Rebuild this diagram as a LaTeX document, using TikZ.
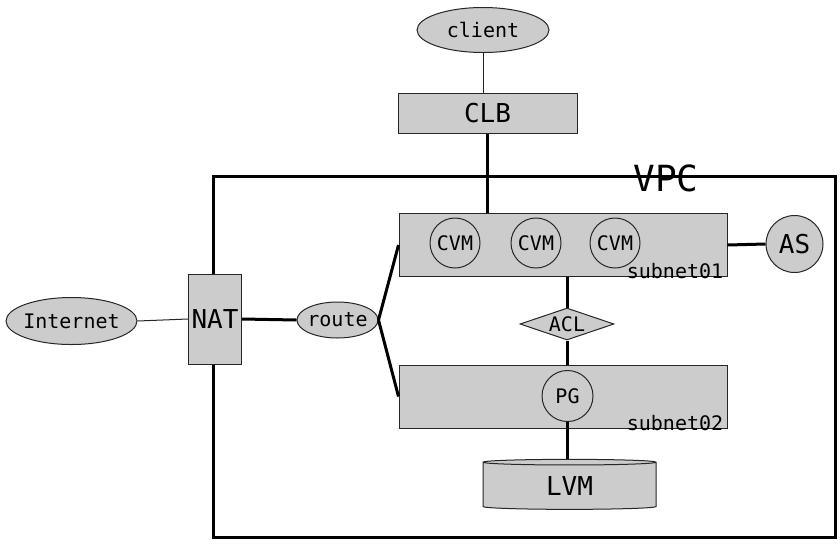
\documentclass[tikz,border=0pt]{standalone}
\usepackage{fontspec}
\setmainfont{DejaVu Sans Mono}
\usetikzlibrary{positioning, shapes.geometric}

\tikzset{
  box/.style={draw=black!85, fill=gray!40, line width=1pt, inner sep=0pt},
  small/.style={font=\fontsize{20}{24}\selectfont},
  big/.style={font=\fontsize{26}{30}\selectfont},
  link/.style={line width=3pt},
  thinlink/.style={line width=1pt, draw=black!85},
}

\begin{document}
\begin{tikzpicture}[x=1pt, y=-1pt]
  \useasboundingbox (0,0) rectangle (840,550);

  % VPC cluster
  \draw[link] (213,176) rectangle (835,537);
  \node[font=\fontsize{36}{40}\selectfont] (vpc) at (666,178) {VPC};

  % outside
  \node[box, ellipse, small, minimum width=132, minimum height=45] (client) at (483,30) {client};
  \node[box, big, minimum width=179, minimum height=40] (clb) at (487.5,113) {CLB};
  \node[box, ellipse, small, inner xsep=-3pt, minimum width=131, minimum height=47] (internet) at (71.5,321) {Internet};
  \node[box, big, minimum width=53, minimum height=90] (nat) at (215,319) {NAT};
  \node[box, ellipse, small, inner xsep=-2pt, minimum width=81, minimum height=36] (route) at (337.5,320) {route};

  % subnets
  \node[box, minimum width=328, minimum height=63] (sub1) at (563,245) {};
  \node[box, minimum width=328, minimum height=63] (sub2) at (563,396.5) {};
  \foreach \x/\n in {455/1, 536/2, 615/3}
    \node[box, circle, small, minimum size=50] (cvm\n) at (\x,243) {CVM};
  \node[small] (lab1) at (675,271) {subnet01};
  \node[small] (lab2) at (675,423) {subnet02};
  \node[box, circle, big, minimum size=57] (as) at (794.5,244) {AS};
  \node[box, diamond, small, aspect=2.9, minimum width=94, minimum height=32] (acl) at (567,324) {ACL};
  \node[box, circle, small, minimum size=51] (pg) at (567.5,396) {PG};
  \node[box, big, cylinder, shape border rotate=90, aspect=0.12,
        minimum width=173, minimum height=50,
        cylinder uses custom fill, cylinder body fill=gray!40,
        cylinder end fill=gray!25] (lvm) at (569.5,486) {LVM};

  % links
  \draw[thinlink] (client.south) -- (client.south |- clb.north);
  \draw[link] (clb.south) -- (clb.south |- sub1.north);
  \draw[thinlink] (internet.east) -- (nat.west);
  \draw[link] (nat.east) -- (route.west);
  \draw[link] (route.east) -- (sub1.west);
  \draw[link] (route.east) -- (sub2.west);
  \draw[link] (sub1.east) -- (as.west);
  \draw[link] (acl.north |- sub1.south) -- (acl.north);
  \draw[link] (acl.south) -- (acl.south |- sub2.north);
  \draw[link] (pg.south) -- (pg.south |- lvm.north);
\end{tikzpicture}
\end{document}
